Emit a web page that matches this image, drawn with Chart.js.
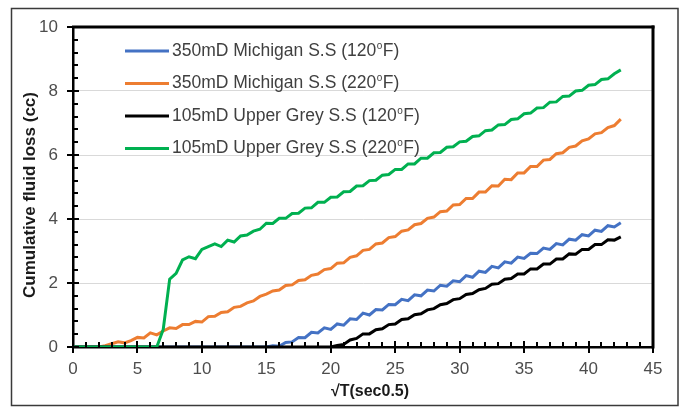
<!DOCTYPE html>
<html>
<head>
<meta charset="utf-8">
<script src="https://cdn.jsdelivr.net/npm/chart.js@4.4.1/dist/chart.umd.min.js"></script>
<style>
	body { margin: 0; background: #fff; }
	#wrap { width: 681px; height: 409px; position: relative; }
</style>
</head>
<body>
<div id="wrap"><canvas id="fluid_loss"></canvas></div>
<script>
// sqrt(T) readings, sec^0.5
var sqrtTime = [0, 0.5, 1, 1.5, 2, 2.5, 3, 3.5, 4, 4.5, 5, 5.5, 6, 6.5, 7, 7.5, 8, 8.5, 9, 9.5,
	10, 10.5, 11, 11.5, 12, 12.5, 13, 13.5, 14, 14.5, 15, 15.5, 16, 16.5, 17, 17.5, 18, 18.5, 19, 19.5,
	20, 20.5, 21, 21.5, 22, 22.5, 23, 23.5, 24, 24.5, 25, 25.5, 26, 26.5, 27, 27.5, 28, 28.5, 29, 29.5,
	30, 30.5, 31, 31.5, 32, 32.5, 33, 33.5, 34, 34.5, 35, 35.5, 36, 36.5, 37, 37.5, 38, 38.5, 39, 39.5,
	40, 40.5, 41, 41.5, 42, 42.5];

var seriesLabels = [
	'350mD Michigan S.S (120°F)',
	'350mD Michigan S.S (220°F)',
	'105mD Upper Grey S.S (120°F)',
	'105mD Upper Grey S.S (220°F)'
];
var seriesColors = ['#4472C4', '#ED7D31', '#000000', '#00B050'];

// cumulative fluid loss, cc
var michigan120 = [0, 0, 0, 0, 0, 0, 0, 0, 0, 0,
	0, 0, 0, 0, 0, 0, 0, 0, 0, 0,
	0, 0, 0, 0, 0, 0, 0, 0, 0, 0,
	0, 0.04, 0.02, 0.14, 0.16, 0.3, 0.29, 0.46, 0.44, 0.6,
	0.55, 0.72, 0.68, 0.88, 0.86, 1.06, 1.0, 1.17, 1.16, 1.33,
	1.32, 1.49, 1.45, 1.63, 1.6, 1.78, 1.75, 1.93, 1.9, 2.07,
	2.04, 2.23, 2.18, 2.37, 2.33, 2.52, 2.47, 2.66, 2.62, 2.81,
	2.77, 2.93, 2.92, 3.09, 3.05, 3.23, 3.19, 3.37, 3.34, 3.51,
	3.47, 3.65, 3.61, 3.79, 3.75, 3.88];

var michigan220 = [0, 0, 0, 0, 0, 0.04, 0.1, 0.16, 0.13, 0.2,
	0.3, 0.28, 0.44, 0.38, 0.5, 0.6, 0.58, 0.7, 0.7, 0.8,
	0.78, 0.95, 0.96, 1.08, 1.1, 1.24, 1.27, 1.38, 1.44, 1.58,
	1.65, 1.75, 1.78, 1.92, 1.94, 2.08, 2.1, 2.24, 2.28, 2.42,
	2.45, 2.62, 2.63, 2.8, 2.85, 3.02, 3.05, 3.22, 3.25, 3.42,
	3.45, 3.62, 3.66, 3.82, 3.86, 4.02, 4.06, 4.23, 4.25, 4.44,
	4.45, 4.64, 4.64, 4.84, 4.84, 5.04, 5.03, 5.24, 5.23, 5.44,
	5.44, 5.64, 5.64, 5.84, 5.86, 6.04, 6.07, 6.24, 6.28, 6.44,
	6.5, 6.66, 6.7, 6.86, 6.92, 7.12];

var upperGrey120 = [0, 0, 0, 0, 0, 0, 0, 0, 0, 0,
	0, 0, 0, 0, 0, 0, 0, 0, 0, 0,
	0, 0, 0, 0, 0, 0, 0, 0, 0, 0,
	0, 0, 0, 0, 0, 0, 0, 0, 0, 0,
	0, 0.05, 0.08, 0.22, 0.27, 0.41, 0.41, 0.54, 0.57, 0.7,
	0.72, 0.86, 0.88, 1.01, 1.04, 1.16, 1.2, 1.32, 1.36, 1.48,
	1.51, 1.64, 1.67, 1.79, 1.83, 1.96, 1.98, 2.12, 2.14, 2.28,
	2.28, 2.44, 2.44, 2.59, 2.59, 2.75, 2.75, 2.91, 2.9, 3.05,
	3.05, 3.2, 3.2, 3.35, 3.34, 3.44];

var upperGrey220 = [0, 0, 0, 0, 0, 0, 0, 0, 0, 0,
	0, 0, 0, 0, 0.55, 2.12, 2.3, 2.72, 2.82, 2.76,
	3.05, 3.14, 3.22, 3.14, 3.34, 3.28, 3.47, 3.5, 3.62, 3.68,
	3.87, 3.86, 4.02, 4.02, 4.17, 4.18, 4.34, 4.35, 4.52, 4.52,
	4.68, 4.69, 4.85, 4.86, 5.03, 5.04, 5.2, 5.21, 5.37, 5.39,
	5.55, 5.55, 5.72, 5.72, 5.9, 5.9, 6.07, 6.08, 6.24, 6.26,
	6.41, 6.43, 6.58, 6.6, 6.76, 6.78, 6.94, 6.95, 7.11, 7.13,
	7.29, 7.31, 7.47, 7.48, 7.65, 7.66, 7.83, 7.84, 8.0, 8.02,
	8.18, 8.2, 8.36, 8.38, 8.54, 8.66];

var xTitle = '√T(sec0.5)';
var yTitle = 'Cumulative fluid loss (cc)';

function toPoints(values) {
	return values.map(function (v, i) {
		return { x: sqrtTime[i], y: v };
	});
}

var fontFamily = '"Liberation Sans", Arial, sans-serif';

// outer box
var chartBox = {
	id: 'chartBox',
	beforeDraw: function (chart) {
		var c = chart.ctx;
		c.save();
		c.fillStyle = '#fff';
		c.fillRect(0, 0, chart.width, chart.height);
		c.strokeStyle = '#3a3a3a';
		c.lineWidth = 1.5;
		c.strokeRect(11.5, 8.5, 666.5, 397);
		c.restore();
	}
};

// plot frame, tick marks (minor inside, major crossing), axis titles, legend
var chartText = {
	id: 'chartText',
	afterDraw: function (chart) {
		var c = chart.ctx;
		var xs = chart.scales.x;
		var ys = chart.scales.y;
		var left = xs.getPixelForValue(0);
		var right = xs.getPixelForValue(45);
		var top = ys.getPixelForValue(10);
		var bottom = ys.getPixelForValue(0);
		var i, p;

		c.save();
		c.fillStyle = '#000000';
		c.fillRect(left - 1, top - 1.5, right - left + 2.5, 3);
		c.fillRect(right - 1.5, top - 1.5, 3, bottom - top + 3);

		for (i = 0; i <= 45; i++) {
			p = Math.round(xs.getPixelForValue(i));
			if (i % 5 == 0) {
				c.fillRect(p - 1, bottom - 6, 2, 12);
			} else {
				c.fillRect(p - 1, bottom - 5, 2, 5);
			}
		}
		for (i = 0; i <= 25; i++) {
			p = Math.round(ys.getPixelForValue(i * 0.4));
			if (i % 5 == 0) {
				c.fillRect(left - 6, p - 1, 12, 2);
			} else {
				c.fillRect(left, p - 1, 5, 2);
			}
		}

		c.fillStyle = '#1a1a1a';
		c.textAlign = 'center';
		c.textBaseline = 'middle';
		c.font = 'bold 16px ' + fontFamily;
		c.fillText(xTitle, 370, 392);
		c.save();
		c.translate(30, 195);
		c.rotate(-Math.PI / 2);
		c.font = 'bold 17px ' + fontFamily;
		c.fillText(yTitle, 0, 0);
		c.restore();

		c.textAlign = 'left';
		chart.data.datasets.forEach(function (ds, k) {
			var y = 51 + k * 32.5;
			c.fillStyle = ds.borderColor;
			c.fillRect(125, y - 1.5, 44, 3);

			var parts = ds.label.split('°');
			var x = 172;
			c.fillStyle = '#404040';
			c.font = '17.5px ' + fontFamily;
			c.fillText(parts[0], x, y);
			x += c.measureText(parts[0]).width;
			c.font = '10px ' + fontFamily;
			c.fillText('o', x + 0.5, y - 5);
			x += c.measureText('o').width + 1;
			c.font = '17.5px ' + fontFamily;
			c.fillText(parts[1], x, y);
		});
		c.restore();
	}
};

var seriesValues = [michigan120, michigan220, upperGrey120, upperGrey220];
var drawOrder = [2, 3, 1, 0];

var canvasCtx = document.getElementById('fluid_loss').getContext('2d');
window.fluidChart = new Chart(canvasCtx, {
	type: 'line',
	data: {
		datasets: seriesValues.map(function (vals, k) {
			return {
				label: seriesLabels[k],
				data: toPoints(vals),
				borderColor: seriesColors[k],
				backgroundColor: seriesColors[k],
				borderWidth: 3,
				pointRadius: 0,
				tension: 0,
				fill: false,
				order: drawOrder[k]
			};
		})
	},
	options: {
		responsive: true,
		maintainAspectRatio: false,
		animation: false,
		layout: {
			padding: { left: 0, top: 27, right: 28, bottom: 0 }
		},
		scales: {
			x: {
				type: 'linear',
				min: 0,
				max: 45,
				afterFit: function (scale) { scale.height = 62; },
				grid: { display: false, drawTicks: false },
				border: { display: true, color: '#000', width: 2.5 },
				ticks: {
					stepSize: 5,
					padding: 12,
					color: '#4d4d4d',
					font: { size: 17, family: fontFamily }
				}
			},
			y: {
				min: 0,
				max: 10,
				afterFit: function (scale) { scale.width = 73; },
				grid: { color: '#d9d9d9', lineWidth: 1, drawTicks: false },
				border: { display: true, color: '#000', width: 2.5 },
				ticks: {
					stepSize: 2,
					padding: 15,
					color: '#4d4d4d',
					font: { size: 17, family: fontFamily }
				}
			}
		},
		plugins: {
			legend: { display: false },
			tooltip: { enabled: false }
		}
	},
	plugins: [chartBox, chartText]
});
</script>
</body>
</html>
